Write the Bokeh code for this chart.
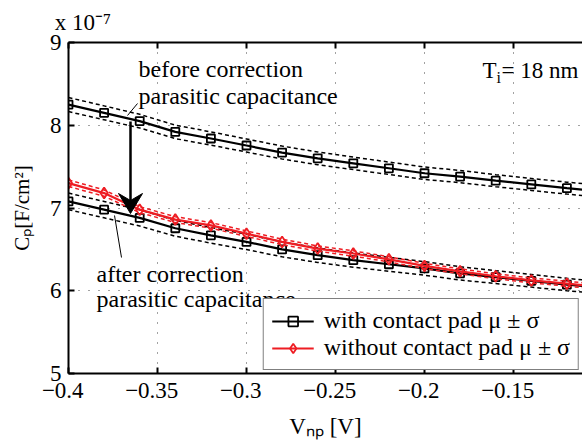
from bokeh.plotting import figure
from bokeh.models import Range1d, FixedTicker, LinearAxis, Label, Legend, LegendItem
from bokeh.embed import file_html
from bokeh.resources import INLINE

# Bias voltage V_np [V]
v_np = [-0.40, -0.38, -0.36, -0.34, -0.32, -0.30, -0.28, -0.26,
        -0.24, -0.22, -0.20, -0.18, -0.16, -0.14, -0.12, -0.10]

# C_p in units of 1e-7 F/cm^2, with contact pad, before pad correction
cp_before = [8.25, 8.15, 8.05, 7.92, 7.84, 7.755, 7.67, 7.60,
             7.54, 7.48, 7.42, 7.38, 7.33, 7.285, 7.24, 7.20]
sd_before = [0.085, 0.084, 0.082, 0.081, 0.080, 0.079, 0.078, 0.077,
             0.076, 0.075, 0.075, 0.074, 0.073, 0.073, 0.072, 0.072]

# with contact pad, after removing the pad's parasitic capacitance
cp_after = [7.08, 6.98, 6.88, 6.755, 6.67, 6.59, 6.50, 6.43,
            6.37, 6.32, 6.27, 6.21, 6.165, 6.12, 6.075, 6.035]
sd_after = [0.100, 0.099, 0.098, 0.096, 0.094, 0.092, 0.090, 0.088,
            0.086, 0.084, 0.082, 0.080, 0.078, 0.076, 0.075, 0.074]

# without contact pad
cp_nopad = [7.30, 7.18, 6.98, 6.86, 6.79, 6.69, 6.59, 6.51,
            6.45, 6.38, 6.30, 6.235, 6.175, 6.125, 6.085, 6.045]
sd_nopad = [0.040, 0.038, 0.036, 0.035, 0.034, 0.033, 0.033, 0.032,
            0.032, 0.031, 0.031, 0.030, 0.030, 0.030, 0.030, 0.030]

x_ticks = [-0.4, -0.35, -0.3, -0.25, -0.2, -0.15]
x_tick_labels = ["\u22120.4", "\u22120.35", "\u22120.3", "\u22120.25", "\u22120.2", "\u22120.15"]
y_ticks = [5, 6, 7, 8, 9]
y_tick_labels = ["5", "6", "7", "8", "9"]

FONT = "Liberation Serif"
RED = "#ee1d23"

# frame geometry (pixels) and axis limits
FL, FW, FT, FH = 68, 514, 42, 331
X0, X1 = -0.4, -0.4 + 514 / 1780
Y0, Y1 = 5, 9


def xd(px):
    return X0 + (px - FL) / FW * (X1 - X0)


def yd(py):
    return Y1 - (py - FT) / FH * (Y1 - Y0)


p = figure(width=582, height=446, x_range=Range1d(X0, X1), y_range=Range1d(Y0, Y1),
           output_backend="svg", toolbar_location=None,
           min_border_left=FL, min_border_right=0, min_border_top=FT,
           min_border_bottom=446 - FT - FH)
p.title.visible = False
p.outline_line_color = None
p.background_fill_color = "white"
p.border_fill_color = "white"

bottom_axis = p.below[0]
left_axis = p.left[0]
top_axis = LinearAxis()
p.add_layout(top_axis, "above")

for ax in (bottom_axis, left_axis, top_axis):
    ax.axis_line_width = 2
    ax.axis_line_color = "black"
    ax.major_tick_in = 6
    ax.major_tick_out = 0
    ax.major_tick_line_width = 2
    ax.major_tick_line_color = "black"
    ax.minor_tick_line_color = None
    ax.major_label_text_font = FONT
    ax.major_label_text_font_size = "23px"
    ax.major_label_text_color = "black"
    ax.axis_label_text_font = FONT
    ax.axis_label_text_font_size = "23px"
    ax.axis_label_text_font_style = "normal"
    ax.axis_label_text_color = "black"

# the en space shifts each centred tick label a little to the left
bottom_axis.ticker = FixedTicker(ticks=x_ticks)
bottom_axis.major_label_overrides = {t: s + "\u2002" for t, s in zip(x_ticks, x_tick_labels)}
bottom_axis.major_label_standoff = 4
bottom_axis.axis_label = "V\u2099\u209a [V]"
bottom_axis.axis_label_standoff = 8

# upper frame edge: ticks only, with the scale factor written above its left end
# (the leading fixed-width spaces bring it in line with the frame's left edge)
top_axis.ticker = FixedTicker(ticks=x_ticks)
top_axis.major_label_overrides = {t: "" for t in x_ticks}
top_axis.major_label_standoff = 0
top_axis.major_label_text_font_size = "0px"
top_axis.axis_label = "\u2002\u2002\u2005x 10\u207b\u2077"
top_axis.axis_label_align = "start"
top_axis.axis_label_standoff = 8

left_axis.ticker = FixedTicker(ticks=y_ticks)
left_axis.major_label_overrides = dict(zip(y_ticks, y_tick_labels))
left_axis.major_label_standoff = 7
left_axis.axis_label = "C\u209a[F/cm\u00b2]"
left_axis.axis_label_text_font_size = "21px"
left_axis.axis_label_standoff = 13

p.xgrid.ticker = FixedTicker(ticks=x_ticks)
p.ygrid.ticker = FixedTicker(ticks=y_ticks)
p.grid.grid_line_color = "#444444"
p.grid.grid_line_width = 1
p.grid.grid_line_dash = "1 9"


def band(mean, sd, color, marker, msize):
    hi = [m + s for m, s in zip(mean, sd)]
    lo = [m - s for m, s in zip(mean, sd)]
    p.line(v_np, hi, line_color=color, line_width=1.5, line_dash="4 3")
    p.line(v_np, lo, line_color=color, line_width=1.5, line_dash="4 3")
    ln = p.line(v_np, mean, line_color=color, line_width=2.2)
    mk = p.scatter(v_np, mean, marker=marker, size=msize, line_color=color,
                   line_width=1.8, fill_color=None)
    return ln, mk


b_ln, b_mk = band(cp_before, sd_before, "black", "square", 8)
a_ln, a_mk = band(cp_after, sd_after, "black", "square", 8)
r_ln, r_mk = band(cp_nopad, sd_nopad, RED, "diamond", 11)

# leader lines from the annotations to the curves
p.segment(x0=[xd(127), xd(114)], y0=[yd(115), yd(215)],
          x1=[xd(137), xd(121)], y1=[yd(103), yd(257)],
          line_color="black", line_width=1)

# correction arrow
ax_px, top_px, tip_px = 130, 121, 213
head_len, head_half, notch = 20, 12, 7
p.segment(x0=[xd(ax_px)], y0=[yd(top_px)], x1=[xd(ax_px)], y1=[yd(tip_px - notch)],
          line_color="black", line_width=2.5)
p.patch(x=[xd(ax_px), xd(ax_px - head_half), xd(ax_px), xd(ax_px + head_half)],
        y=[yd(tip_px), yd(tip_px - head_len), yd(tip_px - head_len + notch), yd(tip_px - head_len)],
        fill_color="black", line_color="black", line_width=1)


def txt(s, px, py, size=23):
    p.add_layout(Label(x=xd(px), y=yd(py), text=s,
                       text_font=FONT, text_font_size=f"{size}px", text_color="black",
                       text_align="left", text_baseline="alphabetic"))


txt("before correction", 138, 68, 24)
txt("parasitic capacitance", 138, 95, 24)
txt("after correction", 96, 273, 24)
txt("parasitic capacitance", 96, 298, 24)

txt("T", 482, 70)
txt("i", 496, 77, 16)
txt("= 18 nm", 501, 70)

legend = Legend(items=[
    LegendItem(label="with contact pad \u03bc \u00b1 \u03c3", renderers=[a_ln, a_mk]),
    LegendItem(label="without contact pad \u03bc \u00b1 \u03c3", renderers=[r_ln, r_mk]),
], location="bottom_right")
legend.margin = 3
legend.padding = 8
legend.spacing = 0
legend.glyph_width = 42
legend.glyph_height = 24
legend.label_height = 24
legend.label_standoff = 10
legend.label_text_font = FONT
legend.label_text_font_size = "24px"
legend.label_text_color = "black"
legend.border_line_color = "black"
legend.border_line_width = 1.5
legend.background_fill_alpha = 1
p.add_layout(legend)

open("out.html", "w").write(file_html(p, INLINE))
